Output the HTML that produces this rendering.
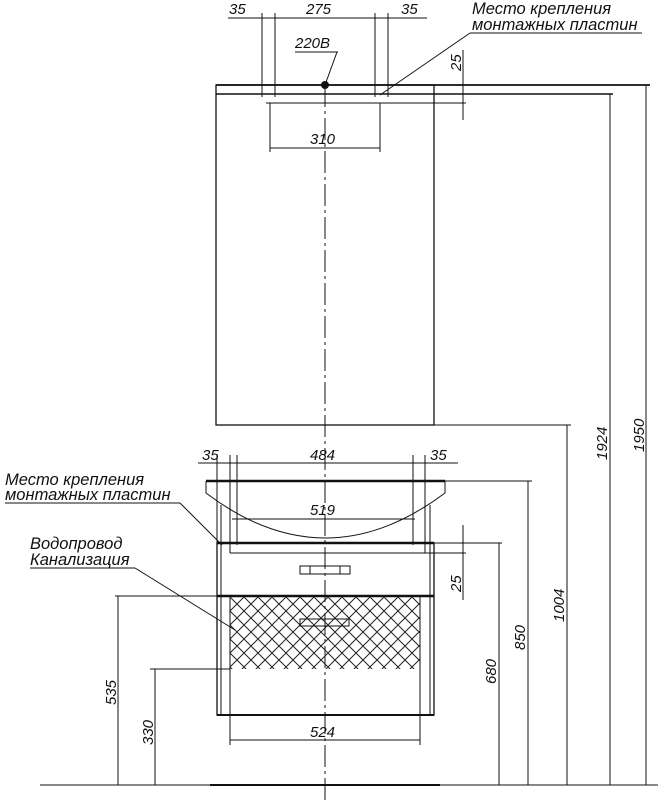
<!DOCTYPE html>
<html><head><meta charset="utf-8"><style>
html,body{margin:0;padding:0;background:#fff;}
svg{display:block;}
text{font-family:"Liberation Sans","DejaVu Sans",sans-serif;font-style:italic;fill:#111;}
</style></head><body>
<svg width="658" height="800" viewBox="0 0 658 800" xmlns="http://www.w3.org/2000/svg">
<defs>
<pattern id="h" width="14" height="14" patternUnits="userSpaceOnUse" x="230" y="597">
<path d="M0,0 L14,14 M14,0 L0,14" stroke="#222" stroke-width="1"/>
</pattern>
</defs>
<g stroke="#111" fill="none" stroke-width="1">
<line x1="216" y1="85" x2="650" y2="85" stroke-width="1.8"/>
<line x1="216" y1="94" x2="613" y2="94" stroke-width="1.5"/>
<line x1="266" y1="103" x2="466" y2="103"/>
<rect x="216" y="85" width="218" height="340" stroke-width="1.3"/>
<line x1="434" y1="425" x2="571" y2="425"/>
<line x1="228" y1="18" x2="427" y2="18"/>
<line x1="262" y1="13" x2="262" y2="97"/>
<line x1="275" y1="13" x2="275" y2="97"/>
<line x1="375" y1="13" x2="375" y2="97"/>
<line x1="388" y1="13" x2="388" y2="97"/>
<line x1="270" y1="103" x2="270" y2="152"/>
<line x1="380" y1="103" x2="380" y2="152"/>
<line x1="270" y1="148" x2="380" y2="148"/>
<line x1="295" y1="52" x2="338" y2="52"/>
<line x1="337" y1="52" x2="325" y2="85"/>
<line x1="463" y1="50" x2="463" y2="120"/>
<line x1="470" y1="33" x2="642" y2="33"/>
<line x1="470" y1="33" x2="380" y2="95"/>
<line x1="325" y1="85" x2="325" y2="800" stroke-dasharray="22,4,3,4"/>
<line x1="610" y1="94" x2="610" y2="785"/>
<line x1="646" y1="85" x2="646" y2="785"/>
<line x1="567" y1="425" x2="567" y2="785"/>
<line x1="528" y1="481" x2="528" y2="785"/>
<line x1="499" y1="543" x2="499" y2="785"/>
<line x1="445" y1="481" x2="532" y2="481"/>
<line x1="434" y1="543" x2="502" y2="543"/>
<line x1="206" y1="481" x2="445" y2="481" stroke-width="2.5"/>
<path d="M206,481 L206,493 Q325,583 445,493 L445,481"/>
<line x1="198" y1="463" x2="458" y2="463"/>
<line x1="217" y1="455" x2="217" y2="545"/>
<line x1="230" y1="455" x2="230" y2="553"/>
<line x1="237" y1="455" x2="237" y2="545"/>
<line x1="413" y1="455" x2="413" y2="545"/>
<line x1="425" y1="455" x2="425" y2="553"/>
<line x1="232" y1="519" x2="415" y2="519"/>
<rect x="217" y="543" width="217" height="172" stroke-width="1.3"/>
<line x1="221" y1="505" x2="221" y2="715"/>
<line x1="430" y1="505" x2="430" y2="715"/>
<line x1="217" y1="543" x2="434" y2="543" stroke-width="2.5"/>
<line x1="230" y1="553" x2="466" y2="553"/>
<line x1="463" y1="525" x2="463" y2="600"/>
<line x1="217" y1="596" x2="434" y2="596" stroke-width="2.5"/>
<line x1="217" y1="715" x2="434" y2="715" stroke-width="2"/>
<rect x="230" y="597" width="190" height="72" fill="url(#h)" stroke="none"/>
<line x1="230" y1="597" x2="230" y2="669"/><line x1="420" y1="597" x2="420" y2="669"/>
<rect x="300" y="566" width="50" height="8"/>
<line x1="310" y1="566" x2="310" y2="574"/><line x1="340" y1="566" x2="340" y2="574"/>
<rect x="300" y="619" width="49" height="7"/>
<line x1="230" y1="669" x2="230" y2="745"/>
<line x1="420" y1="669" x2="420" y2="745"/>
<line x1="230" y1="740" x2="420" y2="740"/>
<line x1="115" y1="596" x2="217" y2="596"/>
<line x1="118" y1="596" x2="118" y2="785"/>
<line x1="150" y1="669" x2="230" y2="669"/>
<line x1="155" y1="669" x2="155" y2="785"/>
<line x1="40" y1="785" x2="658" y2="785"/>
<line x1="210" y1="785" x2="440" y2="785" stroke-width="2"/>
<line x1="5" y1="503" x2="180" y2="503"/>
<line x1="180" y1="503" x2="222" y2="545"/>
<line x1="30" y1="568" x2="135" y2="568"/>
<line x1="135" y1="568" x2="235" y2="630"/>
</g>
<circle cx="325" cy="85" r="4" fill="#111"/>
<g font-size="15">
<text x="229" y="14">35</text>
<text x="306" y="14">275</text>
<text x="401" y="14">35</text>
<text x="295" y="48">220В</text>
<text x="310" y="144">310</text>
<text x="202" y="460">35</text>
<text x="310" y="460">484</text>
<text x="430" y="460">35</text>
<text x="310" y="515">519</text>
<text x="310" y="737">524</text>
<text transform="translate(461,71) rotate(-90)">25</text>
<text transform="translate(461,592) rotate(-90)">25</text>
<text transform="translate(116,705) rotate(-90)">535</text>
<text transform="translate(153,745) rotate(-90)">330</text>
<text transform="translate(496,684) rotate(-90)">680</text>
<text transform="translate(525,650) rotate(-90)">850</text>
<text transform="translate(564,622) rotate(-90)">1004</text>
<text transform="translate(607,460) rotate(-90)">1924</text>
<text transform="translate(644,452) rotate(-90)">1950</text>
</g>
<g font-size="16.5">
<text x="472" y="14">Место крепления</text>
<text x="472" y="30">монтажных пластин</text>
<text x="5" y="485">Место крепления</text>
<text x="5" y="500">монтажных пластин</text>
<text x="30" y="549">Водопровод</text>
<text x="30" y="565">Канализация</text>
</g>
</svg>
</body></html>
